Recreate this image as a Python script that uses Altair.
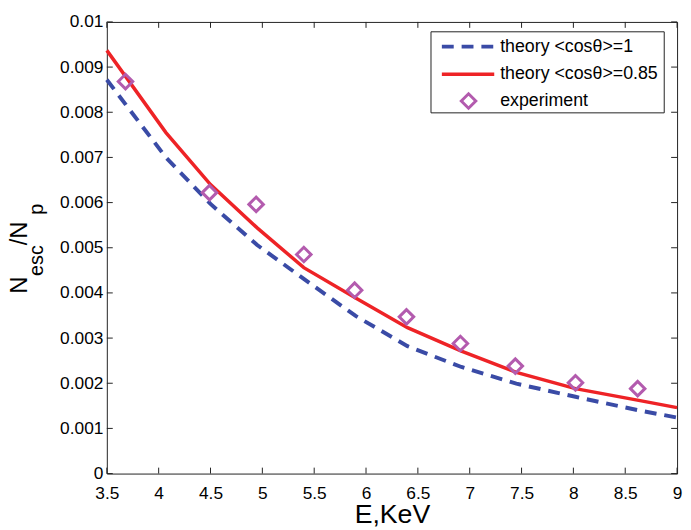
import altair as alt
import pandas as pd

# ---------------- data ----------------
E_theory = [3.5, 4.07, 4.5, 4.95, 5.4, 5.9, 6.4, 6.92, 7.45, 8.02, 8.63, 9.0]
theory_cos1 = [0.00872, 0.00700, 0.00597, 0.00506, 0.00431, 0.00349, 0.00282,
               0.00236, 0.00199, 0.00170, 0.00140, 0.00124]
theory_cos085 = [0.00937, 0.00755, 0.00640, 0.00544, 0.00456, 0.00389, 0.00323,
                 0.00271, 0.00224, 0.00188, 0.00162, 0.00146]
E_exp = [3.68, 4.49, 4.94, 5.40, 5.89, 6.39, 6.91, 7.44, 8.02, 8.62]
experiment = [0.00868, 0.00622, 0.00596, 0.00485, 0.00406, 0.00347, 0.00288,
              0.00238, 0.00201, 0.00188]
x_ticks = [3.5, 4, 4.5, 5, 5.5, 6, 6.5, 7, 7.5, 8, 8.5, 9]
y_ticks = [0, 0.001, 0.002, 0.003, 0.004, 0.005, 0.006, 0.007, 0.008, 0.009, 0.01]
legend_labels = ["theory <cos\u03b8>=1", "theory <cos\u03b8>=0.85", "experiment"]
x_title = "E,KeV"

# ---------------- styling ----------------
W, H = 577, 457
FONT = "Liberation Sans"
BLUE = "#3A4BA6"
RED = "#EE2326"
PURPLE = "#B35BAE"
AXC = "#222222"
TICK = 6
DASH = [12, 8]
DSIZE = 215

xs = alt.Scale(domain=[3.5, 9], nice=False, zero=False)
ys = alt.Scale(domain=[0, 0.01], nice=False, zero=False)
x_axis = alt.Axis(values=x_ticks, format="~g", title=x_title, titleFont=FONT,
                  titleFontSize=27, titleFontWeight="normal", titleColor="black",
                  titlePadding=0, labelPadding=11, labelFontSize=17.5)
y_axis = alt.Axis(values=y_ticks, format="~g", title=None, labelPadding=4,
                  labelFontSize=17.5)

df_blue = pd.DataFrame({"E": E_theory, "N": theory_cos1})
df_red = pd.DataFrame({"E": E_theory, "N": theory_cos085})
df_exp = pd.DataFrame({"E": E_exp, "N": experiment})
df_xt = pd.DataFrame({"E": x_ticks})
df_yt = pd.DataFrame({"N": y_ticks})

X = alt.X("E:Q", scale=xs, axis=x_axis)
Y = alt.Y("N:Q", scale=ys, axis=y_axis)

blue = alt.Chart(df_blue).mark_line(color=BLUE, strokeWidth=4,
                                    strokeDash=DASH).encode(x=X, y=Y)
red = alt.Chart(df_red).mark_line(color=RED, strokeWidth=3.5).encode(x=X, y=Y)
pts = alt.Chart(df_exp).mark_point(shape="diamond", size=DSIZE, filled=False,
                                   color=PURPLE, strokeWidth=3,
                                   opacity=1).encode(x=X, y=Y)

# inward ticks on all four sides
tb = alt.Chart(df_xt).mark_rule(color=AXC, strokeWidth=1).encode(
    x=X, y=alt.value(H), y2=alt.value(H - TICK))
tt = alt.Chart(df_xt).mark_rule(color=AXC, strokeWidth=1).encode(
    x=X, y=alt.value(0), y2=alt.value(TICK))
tl = alt.Chart(df_yt).mark_rule(color=AXC, strokeWidth=1).encode(
    y=Y, x=alt.value(0), x2=alt.value(TICK))
tr = alt.Chart(df_yt).mark_rule(color=AXC, strokeWidth=1).encode(
    y=Y, x=alt.value(W - TICK), x2=alt.value(W))

# legend (drawn by hand)
one = pd.DataFrame({"k": [0]})
lbox = alt.Chart(one).mark_rect(fill="white", stroke=AXC, strokeWidth=1).encode(
    x=alt.value(328), x2=alt.value(564), y=alt.value(10), y2=alt.value(92))
lblue = alt.Chart(one).mark_rule(color=BLUE, strokeWidth=4, strokeDash=DASH).encode(
    x=alt.value(339), x2=alt.value(392), y=alt.value(25))
lred = alt.Chart(one).mark_rule(color=RED, strokeWidth=3.5).encode(
    x=alt.value(339), x2=alt.value(392), y=alt.value(53))
lpt = alt.Chart(one).mark_point(shape="diamond", size=DSIZE, filled=False, color=PURPLE,
                                strokeWidth=3, opacity=1).encode(
    x=alt.value(366), y=alt.value(80))
ltexts = []
for lab, yy in zip(legend_labels, [25, 53, 80]):
    ltexts.append(alt.Chart(pd.DataFrame({"t": [lab]})).mark_text(
        align="left", baseline="middle", font=FONT, fontSize=18, color="black").encode(
        text="t:N", x=alt.value(398), y=alt.value(yy)))

# y title N_esc / N_p with subscripts (rotated)
ytitle = []
for txt, fs, xx, yy in [("N", 24, -81, 275), ("esc", 20, -65, 257),
                        ("/N", 24, -81, 226), ("p", 20, -65, 195)]:
    ytitle.append(alt.Chart(pd.DataFrame({"t": [txt]})).mark_text(
        angle=270, align="left", baseline="alphabetic", font=FONT, fontSize=fs,
        color="black").encode(text="t:N", x=alt.value(xx), y=alt.value(yy)))

chart = alt.layer(
    blue, red, pts, tb, tt, tl, tr, lbox, lblue, lred, lpt, *ltexts, *ytitle
).properties(
    width=W, height=H,
    padding={"left": 100, "top": 11, "right": 6, "bottom": 54},
    autosize=alt.AutoSizeParams(type="none"),
).configure_view(
    stroke=AXC, strokeWidth=1
).configure_axis(
    domain=False, grid=False, ticks=False, tickSize=0,
    labelFont=FONT, labelColor="black", labelFlush=False, labelOverlap=False
)

chart.save("out.html", embed_options={"renderer": "svg", "actions": False})
